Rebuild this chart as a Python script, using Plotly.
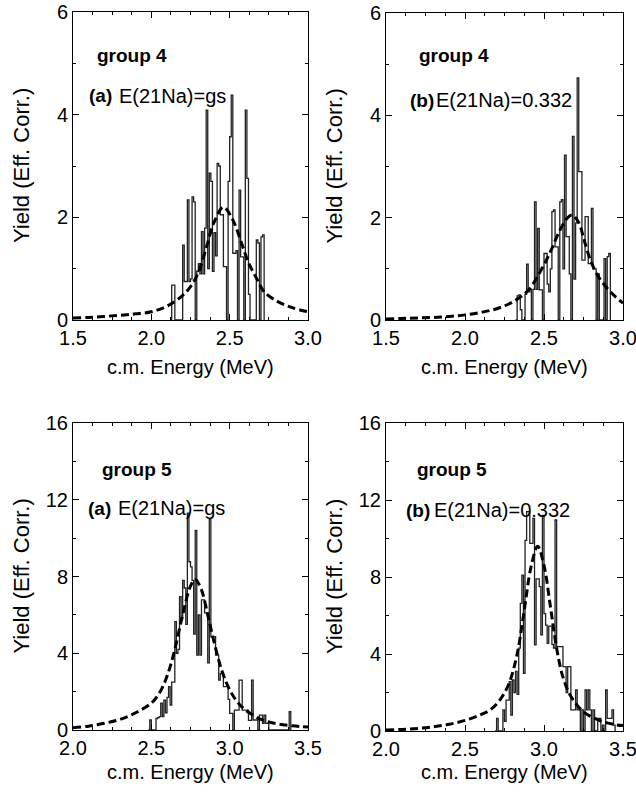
import plotly.graph_objects as go

# ---------------------------------------------------------------
# Datos (histogramas con bines de 0.01 MeV)
# ---------------------------------------------------------------
BIN_MEV = 0.01

# group 4 (a) E(21Na)=gs
g4a_inicio = 2.12
g4a_yield = [0, 0.68, 0.68, 0, 0, 0, 0, 0, 1.46, 0.75, 0.75, 2.34, 0.75, 0.8,
             2.4, 2.3, 0, 0.95, 1.1, 0.9, 1.72, 0.9, 1.79, 4.09, 1.0, 2.86,
             2.7, 0.95, 1.7, 1.25, 3.05, 3.0, 2.05, 2.05, 1.04, 1.04, 0, 2.7,
             3.57, 4.38, 1.3, 1.3, 1.35, 0, 2.53, 1.23, 1.23, 0, 4.09, 2.76,
             0.5, 0, 0, 0, 0, 1.56, 1.5, 0, 1.62, 1.66, 0]
g4a_fit_e = [1.5, 1.6, 1.7, 1.8, 1.9, 2.0, 2.1, 2.2, 2.25, 2.3, 2.35, 2.4,
             2.46, 2.52, 2.57, 2.62, 2.67, 2.72, 2.8, 2.9, 3.0]
g4a_fit_y = [0.04, 0.05, 0.07, 0.09, 0.12, 0.16, 0.27, 0.48, 0.65, 0.92, 1.4,
             1.9, 2.2, 1.95, 1.55, 1.12, 0.82, 0.55, 0.37, 0.24, 0.16]

# group 4 (b) E(21Na)=0.332
g4b_inicio = 2.32
g4b_yield = [0, 0.47, 0.49, 0.2, 0, 0, 0.5, 1.09, 0.55, 0.6, 0, 0.6, 2.31,
             0.6, 1.79, 0.59, 0.59, 0, 1.3, 1.3, 0.7, 0.55, 1.0, 2.12, 2.15,
             1.43, 1.43, 0, 2.31, 2.35, 1.0, 3.22, 1.63, 1.63, 0.9, 0, 3.59,
             0.8, 1.9, 4.73, 2.9, 2.9, 1.17, 1.17, 2.02, 2.02, 1.1, 1.1, 2.18,
             1.0, 1.0, 0, 0.9, 0, 0, 0, 1.2, 0, 1.24, 1.3, 0]
g4b_fit_e = [1.5, 1.6, 1.7, 1.8, 1.9, 2.0, 2.1, 2.2, 2.3, 2.4, 2.5, 2.55,
             2.6, 2.65, 2.68, 2.72, 2.76, 2.8, 2.85, 2.9, 2.95, 3.0]
g4b_fit_y = [0.02, 0.03, 0.04, 0.05, 0.07, 0.1, 0.15, 0.22, 0.35, 0.58, 1.08,
             1.4, 1.75, 2.0, 2.05, 1.9, 1.5, 1.12, 0.82, 0.62, 0.46, 0.33]

# group 5 (a) E(21Na)=gs
g5a_inicio = 2.48
g5a_yield = [0, 0.52, 0, 0, 0, 0.6, 0.65, 0.7, 1.4, 0.7, 1.56, 0.9, 1.7,
             2.26, 1.3, 2.5, 2.5, 5.65, 4.0, 4.2, 6.95, 5.8, 7.8, 7.4, 5.5,
             11.3, 8.77, 8.5, 7.8, 5.0, 10.4, 3.9, 6.0, 3.9, 6.78, 6.78, 6.1,
             6.1, 3.5, 11.0, 4.86, 4.86, 4.86, 3.9, 3.9, 2.6, 2.95, 2.95,
             2.26, 2.26, 2.26, 1.6, 0.87, 0.87, 0, 1.04, 1.04, 1.04, 2.6, 2.6,
             1.04, 1.04, 1.04, 1.04, 0.5, 0.5, 2.6, 0.52, 0.52, 0.52, 0, 0.78,
             0.78, 0.35, 0.78, 0.35, 0.35, 0, 0, 0, 0, 0, 0, 0, 0, 0, 0, 0, 0,
             0, 0.95, 0]
g5a_fit_e = [2.0, 2.1, 2.2, 2.3, 2.4, 2.5, 2.55, 2.6, 2.65, 2.7, 2.75, 2.78,
             2.82, 2.86, 2.9, 2.95, 3.0, 3.05, 3.1, 3.2, 3.3, 3.4, 3.5]
g5a_fit_y = [0.12, 0.2, 0.35, 0.55, 0.9, 1.4, 1.9, 2.8, 4.2, 6.0, 7.5, 7.85,
             7.3, 6.0, 4.6, 3.1, 2.1, 1.45, 1.05, 0.55, 0.33, 0.22, 0.15]

# group 5 (b) E(21Na)=0.332
g5b_inicio = 2.69
g5b_yield = [0, 0.66, 0, 0, 0, 1.1, 0.5, 1.6, 1.6, 2.56, 0.83, 2.65, 2.0,
             3.1, 1.9, 4.3, 6.63, 8.1, 3.0, 9.9, 11.4, 11.4, 9.75, 9.75,
             11.05, 4.47, 7.9, 7.9, 7.5, 5.0, 11.2, 6.1, 5.5, 4.55, 5.45,
             5.45, 4.5, 4.3, 10.96, 4.38, 4.38, 4.38, 4.38, 3.34, 3.34, 2.0,
             3.34, 3.34, 1.1, 1.1, 1.1, 2.13, 1.1, 1.1, 0, 1.1, 0, 2.13, 1.1,
             2.13, 1.1, 0, 1.1, 0, 0, 0.66, 0.66, 0, 0.3, 0, 2.13, 0.66, 0.66,
             0.66, 1.1, 0.3, 0]
g5b_fit_e = [2.0, 2.1, 2.2, 2.3, 2.4, 2.5, 2.6, 2.66, 2.72, 2.78, 2.83, 2.87,
             2.92, 2.96, 3.0, 3.04, 3.08, 3.12, 3.17, 3.25, 3.35, 3.45, 3.5]
g5b_fit_y = [0.05, 0.08, 0.13, 0.22, 0.35, 0.55, 0.85, 1.1, 1.6, 2.5, 4.0,
             6.0, 8.6, 9.6, 8.6, 6.5, 4.3, 2.8, 1.8, 1.0, 0.55, 0.33, 0.28]

# ---------------------------------------------------------------
# Paneles: (histograma, ajuste, rango x, rango y, etiquetas)
# ---------------------------------------------------------------
FUENTE = "Liberation Sans, Arial, Helvetica, sans-serif"
W, H = 636, 793

paneles = [
    dict(x0=g4a_inicio, y=g4a_yield, fe=g4a_fit_e, fy=g4a_fit_y,
         xr=[1.5, 3.0], yr=[0, 6], ydt=2, grupo="group 4", letra="(a)",
         estado="E(21Na)=gs", px=(73, 308), py=(12, 320),
         pos_g=(95, 56), pos_l=(87, 96), pos_e=(117, 96)),
    dict(x0=g4b_inicio, y=g4b_yield, fe=g4b_fit_e, fy=g4b_fit_y,
         xr=[1.5, 3.0], yr=[0, 6], ydt=2, grupo="group 4", letra="(b)",
         estado="E(21Na)=0.332", px=(386, 623), py=(13, 320),
         pos_g=(417, 56), pos_l=(408, 100), pos_e=(434, 100)),
    dict(x0=g5a_inicio, y=g5a_yield, fe=g5a_fit_e, fy=g5a_fit_y,
         xr=[2.0, 3.5], yr=[0, 16], ydt=4, grupo="group 5", letra="(a)",
         estado="E(21Na)=gs", px=(73, 308), py=(423, 730),
         pos_g=(100, 470), pos_l=(86, 508), pos_e=(116, 508)),
    dict(x0=g5b_inicio, y=g5b_yield, fe=g5b_fit_e, fy=g5b_fit_y,
         xr=[2.0, 3.5], yr=[0, 16], ydt=4, grupo="group 5", letra="(b)",
         estado="E(21Na)=0.332", px=(386, 623), py=(423, 731),
         pos_g=(415, 470), pos_l=(404, 510), pos_e=(432, 510)),
]

fig = go.Figure()
anotaciones = []

for i, p in enumerate(paneles, start=1):
    sx = "" if i == 1 else str(i)
    xa, ya = "x" + sx, "y" + sx

    # histograma en escalones
    fig.add_trace(go.Scatter(
        x0=p["x0"], dx=BIN_MEV, y=p["y"], mode="lines", line_shape="hv",
        line=dict(color="#222222", width=1.3), xaxis=xa, yaxis=ya,
        showlegend=False, hoverinfo="skip"))
    # ajuste (línea discontinua)
    fig.add_trace(go.Scatter(
        x=p["fe"], y=p["fy"], mode="lines", line_shape="spline",
        line=dict(color="black", width=3, dash="8px,4px"),
        xaxis=xa, yaxis=ya, showlegend=False, hoverinfo="skip"))

    ejes_comunes = dict(
        showline=True, linecolor="black", linewidth=1, mirror="ticks",
        ticks="inside", tickcolor="black", tickwidth=1, ticklen=6,
        showgrid=False, zeroline=False, automargin=False,
        ticklabeloverflow="allow",
        tickfont=dict(family=FUENTE, size=20, color="black"))

    fig.layout["xaxis" + sx] = dict(
        domain=[p["px"][0] / W, p["px"][1] / W], anchor=ya,
        range=p["xr"], tick0=p["xr"][0], dtick=0.5, tickformat=".1f",
        minor=dict(tick0=p["xr"][0], dtick=0.125, ticks="inside", ticklen=3,
                   tickcolor="black"),
        **ejes_comunes)
    fig.layout["yaxis" + sx] = dict(
        domain=[1 - p["py"][1] / H, 1 - p["py"][0] / H], anchor=xa,
        range=p["yr"], tick0=0, dtick=p["ydt"],
        minor=dict(tick0=0, dtick=p["ydt"] / 2, ticks="inside", ticklen=3,
                   tickcolor="black"),
        **ejes_comunes)

    # textos del panel
    anotaciones.append(dict(
        text="<b>" + p["grupo"] + "</b>", x=p["pos_g"][0] / W,
        y=1 - p["pos_g"][1] / H, xanchor="left", yanchor="middle",
        font=dict(family=FUENTE, size=19, color="black")))
    anotaciones.append(dict(
        text="<b>" + p["letra"] + "</b>", x=p["pos_l"][0] / W,
        y=1 - p["pos_l"][1] / H, xanchor="left", yanchor="middle",
        font=dict(family=FUENTE, size=19, color="black")))
    anotaciones.append(dict(
        text=p["estado"], x=p["pos_e"][0] / W, y=1 - p["pos_e"][1] / H,
        xanchor="left", yanchor="middle",
        font=dict(family=FUENTE, size=20, color="black")))

    # títulos de ejes
    cx = (p["px"][0] + p["px"][1]) / 2
    cy = (p["py"][0] + p["py"][1]) / 2
    ty = 367 if p["py"][1] < 400 else 772
    anotaciones.append(dict(
        text="c.m. Energy (MeV)", x=cx / W, y=1 - ty / H,
        xanchor="center", yanchor="middle",
        font=dict(family=FUENTE, size=20, color="black")))
    anotaciones.append(dict(
        text="Yield (Eff. Corr.)", x=(p["px"][0] - 52) / W, y=1 - cy / H,
        textangle=-90, xanchor="center", yanchor="middle",
        font=dict(family=FUENTE, size=22, color="black")))

for a in anotaciones:
    a.update(xref="paper", yref="paper", showarrow=False)

fig.update_layout(
    template="none",
    width=W, height=H, margin=dict(l=0, r=0, t=0, b=0, autoexpand=False),
    paper_bgcolor="white", plot_bgcolor="white",
    annotations=anotaciones)

# sin margen del <body> para que la figura ocupe la ventana exacta
fig.write_html("out.html", config={"displayModeBar": False},
               post_script="document.body.style.margin='0';")
